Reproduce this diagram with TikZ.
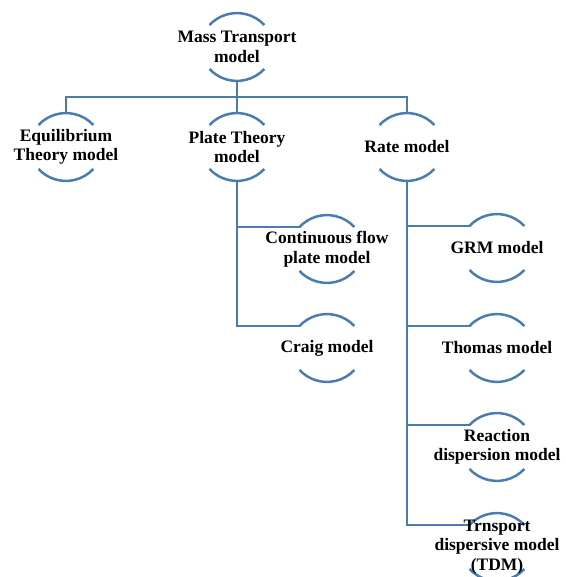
\documentclass[tikz,border=0pt]{standalone}
\usepackage{fontspec}
\setmainfont{Liberation Serif}
\usepackage{tikz}
\usetikzlibrary{calc}
\pgfdeclarelayer{background}
\pgfsetlayers{background,main}
\definecolor{linkblue}{RGB}{74,124,176}
\tikzset{
  model/.style={font=\bfseries\fontsize{17.5}{19.5}\selectfont, align=center, inner sep=0pt},
  link/.style={draw=linkblue, line width=2.5pt},
}

\begin{document}
\begin{tikzpicture}[x=1pt, y=-1pt]
        \clip (0,0) rectangle (565,577);
        % nodes
        \node[model] (mass) at (237,47) {Mass Transport\\model};
        \node[model] (equil) at (66,147) {Equilibrium\\Theory model};
        \node[model] (plate) at (237,147) {Plate Theory\\model};
        \node[model] (rate) at (407,147) {Rate model};
        \node[model] (cont) at (327,249) {Continuous flow\\plate model};
        \node[model] (craig) at (327,348) {Craig model};
        \node[model] (grm) at (497,248) {GRM model};
        \node[model] (thomas) at (497,348) {Thomas model};
        \node[model] (react) at (497,447) {Reaction\\dispersion model};
        \node[model] (trn) at (497,547) {Trnsport\\dispersive model\\(TDM)};
        \begin{pgfonlayer}{background}
        % arcs above and below each model
        \foreach \n in {mass,equil,plate,rate,cont,craig,grm,thomas,react,trn}{
          \draw[link] ([shift={(-27.5pt,22pt)}]\n.center) arc[start angle=137, end angle=43, radius=37.5pt];
          \draw[link] ([shift={(-27.5pt,-22pt)}]\n.center) arc[start angle=223, end angle=317, radius=37.5pt];
        }
        % connectors
        \coordinate (bus) at (237,97);
        \draw[link] ([yshift=-34pt]mass.center) -- (bus);
        \draw[link] ([yshift=34pt]equil.center) |- (bus) -| ([yshift=34pt]rate.center);
        \draw[link] (bus) -- ([yshift=34pt]plate.center);
        \foreach \n in {cont,craig}
          \draw[link] ([yshift=-34pt]plate.center) |- ([shift={(-27.5pt,22pt)}]\n.center);
        \foreach \n in {grm,thomas,react,trn}
          \draw[link] ([yshift=-34pt]rate.center) |- ([shift={(-27.5pt,22pt)}]\n.center);
        \end{pgfonlayer}
\end{tikzpicture}
\end{document}
